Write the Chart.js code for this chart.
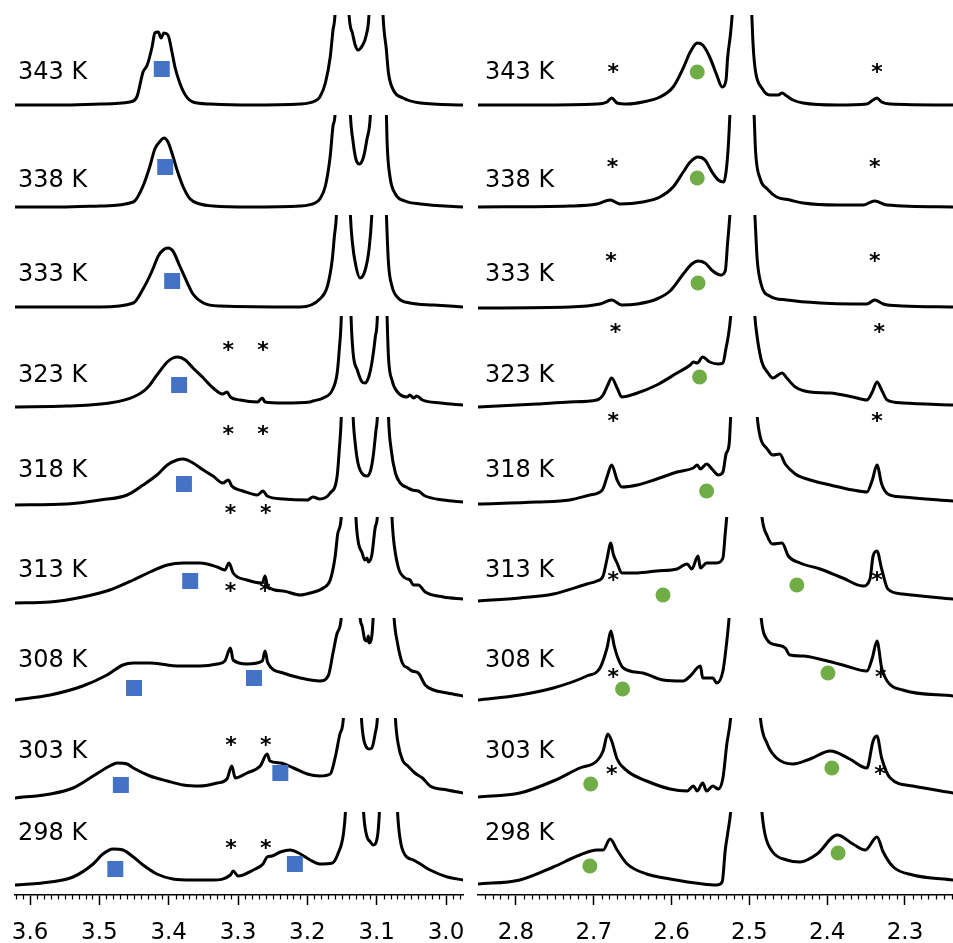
<!DOCTYPE html>
<html>
<head>
<meta charset="utf-8">
<script src="https://cdn.jsdelivr.net/npm/chart.js@4.4.1/dist/chart.umd.min.js"></script>
<style>
  body { margin: 0; background: #fff; }
  #wrap { position: relative; width: 953px; height: 943px; }
  canvas { position: absolute; top: 0; }
</style>
</head>
<body>
<div id="wrap">
  <canvas id="left" width="470" height="943" style="left:0"></canvas>
  <canvas id="right" width="483" height="943" style="left:470px"></canvas>
</div>
<script>
// temperatures, top trace to bottom trace
const temps = [343, 338, 333, 323, 318, 313, 308, 303, 298];

// 3.0 - 3.6 ppm window, [ppm, intensity]
const left343 = [[3.622,0],[3.557,0],[3.499,1],[3.456,3],[3.446,8],[3.437,33],[3.431,40],[3.424,58],[3.420,72],[3.415,73],[3.411,67],[3.407,72],[3.401,70],[3.395,52],[3.391,38],[3.384,22],[3.376,10],[3.365,3],[3.340,1],[3.283,0],[3.210,1],[3.189,4],[3.182,8],[3.174,22],[3.167,48],[3.163,75],[3.160,92],[3.150,320],[3.140,92],[3.135,72],[3.131,60],[3.127,55],[3.121,59],[3.115,70],[3.111,92],[3.101,320],[3.091,92],[3.086,55],[3.083,32],[3.076,15],[3.062,7],[3.037,2],[2.975,0]];
const left338 = [[3.622,0],[3.557,0],[3.499,1],[3.451,5],[3.437,21],[3.427,41],[3.420,58],[3.412,66],[3.407,69],[3.401,65],[3.394,51],[3.387,35],[3.379,20],[3.369,8],[3.355,3],[3.336,1],[3.283,0],[3.210,1],[3.189,4],[3.182,8],[3.174,21],[3.167,51],[3.163,81],[3.160,93],[3.149,320],[3.138,93],[3.134,65],[3.130,48],[3.125,43],[3.119,50],[3.114,68],[3.109,93],[3.098,320],[3.086,93],[3.085,65],[3.081,31],[3.073,13],[3.059,6],[3.037,3],[2.975,0]];
const left333 = [[3.622,0],[3.499,0],[3.451,4],[3.437,18],[3.424,36],[3.415,51],[3.408,57],[3.401,59],[3.394,56],[3.384,41],[3.373,24],[3.365,13],[3.350,4],[3.326,1],[3.210,0],[3.182,8],[3.171,21],[3.164,48],[3.161,71],[3.158,93],[3.148,320],[3.138,93],[3.135,64],[3.130,41],[3.124,29],[3.117,36],[3.111,58],[3.107,93],[3.096,320],[3.086,93],[3.083,44],[3.078,21],[3.069,9],[3.052,4],[3.018,2],[2.975,0]];
const left323 = [[3.622,-2],[3.547,-1],[3.485,2],[3.451,8],[3.431,17],[3.417,30],[3.402,43],[3.394,47],[3.387,48],[3.376,45],[3.365,37],[3.350,27],[3.336,17],[3.322,11],[3.316,13],[3.311,8],[3.297,5],[3.272,3],[3.265,7],[3.261,3],[3.235,2],[3.196,3],[3.192,4],[3.177,7],[3.164,15],[3.157,32],[3.154,55],[3.151,89],[3.144,320],[3.137,89],[3.134,52],[3.128,35],[3.121,23],[3.117,22],[3.112,27],[3.107,42],[3.102,68],[3.099,89],[3.092,320],[3.085,89],[3.083,48],[3.078,25],[3.070,13],[3.056,8],[3.052,10],[3.047,7],[3.042,9],[3.034,5],[3.008,2],[2.975,0]];
const left318 = [[3.622,-2],[3.547,-1],[3.499,3],[3.460,8],[3.437,18],[3.417,28],[3.402,38],[3.388,43],[3.379,44],[3.365,40],[3.350,33],[3.336,27],[3.322,20],[3.314,23],[3.309,17],[3.293,12],[3.272,8],[3.264,12],[3.258,7],[3.235,4],[3.200,3],[3.192,6],[3.182,4],[3.167,10],[3.157,27],[3.154,53],[3.151,87],[3.143,320],[3.134,87],[3.131,60],[3.127,40],[3.119,28],[3.114,27],[3.109,32],[3.105,47],[3.101,73],[3.099,87],[3.091,320],[3.083,87],[3.079,53],[3.073,30],[3.066,20],[3.055,15],[3.049,13],[3.040,12],[3.030,7],[3.004,3],[2.975,1]];
const left313 = [[3.622,-3],[3.571,-2],[3.524,3],[3.485,10],[3.451,20],[3.427,28],[3.402,35],[3.379,37],[3.355,37],[3.330,33],[3.319,30],[3.313,37],[3.307,27],[3.287,20],[3.265,17],[3.261,24],[3.257,13],[3.235,9],[3.210,5],[3.196,7],[3.177,12],[3.167,20],[3.160,43],[3.156,67],[3.151,84],[3.140,320],[3.130,84],[3.127,60],[3.121,47],[3.117,40],[3.114,42],[3.112,38],[3.107,45],[3.102,73],[3.099,84],[3.088,320],[3.078,84],[3.076,63],[3.069,33],[3.059,22],[3.052,20],[3.047,15],[3.040,15],[3.030,8],[3.004,3],[2.975,1]];
const left308 = [[3.622,-2],[3.571,3],[3.524,12],[3.489,23],[3.466,33],[3.451,35],[3.427,35],[3.402,33],[3.379,32],[3.355,32],[3.330,34],[3.319,37],[3.311,50],[3.307,38],[3.287,34],[3.265,37],[3.261,47],[3.257,35],[3.235,25],[3.210,20],[3.182,17],[3.170,22],[3.163,45],[3.157,65],[3.151,81],[3.138,320],[3.124,81],[3.121,72],[3.117,58],[3.114,57],[3.112,62],[3.111,55],[3.107,62],[3.105,81],[3.090,320],[3.075,81],[3.070,55],[3.063,35],[3.055,30],[3.049,27],[3.040,25],[3.030,13],[3.018,8],[2.998,5],[2.975,2]];
const left303 = [[3.622,-2],[3.571,2],[3.538,8],[3.509,20],[3.485,30],[3.474,33],[3.460,32],[3.451,28],[3.427,20],[3.402,15],[3.379,11],[3.355,10],[3.330,13],[3.316,17],[3.309,30],[3.304,18],[3.287,23],[3.268,30],[3.258,42],[3.254,35],[3.239,33],[3.220,28],[3.200,22],[3.182,20],[3.167,22],[3.160,38],[3.153,62],[3.148,78],[3.135,320],[3.122,78],[3.119,58],[3.114,48],[3.111,47],[3.107,48],[3.102,63],[3.099,78],[3.086,320],[3.073,78],[3.069,52],[3.062,35],[3.055,30],[3.045,23],[3.034,18],[3.023,10],[2.998,6],[2.975,3]];
const left298 = [[3.622,-2],[3.571,1],[3.538,6],[3.509,19],[3.495,29],[3.480,34],[3.466,33],[3.451,26],[3.437,18],[3.417,9],[3.394,4],[3.365,3],[3.336,3],[3.311,8],[3.307,12],[3.300,7],[3.278,13],[3.264,19],[3.258,26],[3.251,27],[3.239,31],[3.225,33],[3.210,29],[3.196,23],[3.182,19],[3.164,20],[3.156,29],[3.148,49],[3.145,72],[3.132,320],[3.119,72],[3.115,49],[3.109,41],[3.105,38],[3.099,46],[3.096,72],[3.083,320],[3.070,72],[3.066,43],[3.059,28],[3.047,23],[3.037,19],[3.023,13],[2.998,6],[2.975,3]];

// 2.25 - 2.85 ppm window, [ppm, intensity]
const right343 = [[2.849,0],[2.773,0],[2.696,1],[2.683,3],[2.677,7],[2.670,2],[2.657,1],[2.637,3],[2.615,8],[2.598,18],[2.585,37],[2.576,53],[2.567,62],[2.560,60],[2.551,48],[2.542,30],[2.535,18],[2.530,25],[2.528,47],[2.524,73],[2.522,92],[2.509,320],[2.497,92],[2.495,57],[2.492,33],[2.484,17],[2.474,10],[2.463,10],[2.458,12],[2.452,9],[2.444,5],[2.431,2],[2.387,0],[2.349,1],[2.341,5],[2.336,7],[2.330,3],[2.319,1],[2.238,0]];
const right338 = [[2.849,0],[2.731,1],[2.696,3],[2.679,7],[2.666,3],[2.637,5],[2.615,10],[2.598,20],[2.585,35],[2.576,45],[2.566,50],[2.557,47],[2.548,35],[2.540,27],[2.533,25],[2.530,35],[2.527,62],[2.525,93],[2.509,320],[2.494,93],[2.492,55],[2.486,28],[2.477,18],[2.465,10],[2.448,7],[2.431,4],[2.387,2],[2.354,2],[2.339,6],[2.323,2],[2.238,0]];
const right333 = [[2.849,-1],[2.731,0],[2.692,3],[2.677,7],[2.664,2],[2.644,3],[2.619,8],[2.602,16],[2.585,33],[2.574,43],[2.566,46],[2.557,44],[2.547,36],[2.537,32],[2.531,36],[2.528,64],[2.525,93],[2.509,320],[2.493,93],[2.490,48],[2.485,23],[2.474,11],[2.452,7],[2.409,4],[2.367,3],[2.349,3],[2.339,7],[2.328,3],[2.303,1],[2.238,0]];
const right323 = [[2.849,-2],[2.773,1],[2.731,3],[2.696,5],[2.688,10],[2.682,20],[2.677,27],[2.670,17],[2.664,8],[2.644,12],[2.619,20],[2.593,32],[2.576,40],[2.572,43],[2.567,42],[2.560,48],[2.551,43],[2.540,41],[2.534,42],[2.530,57],[2.528,65],[2.524,89],[2.508,320],[2.493,89],[2.490,68],[2.484,43],[2.476,32],[2.470,27],[2.458,32],[2.452,27],[2.441,18],[2.422,13],[2.396,12],[2.367,8],[2.349,5],[2.342,13],[2.336,23],[2.330,15],[2.323,5],[2.303,2],[2.238,0]];
const right318 = [[2.849,-1],[2.773,1],[2.731,3],[2.705,8],[2.689,13],[2.683,26],[2.677,38],[2.670,23],[2.664,16],[2.644,18],[2.619,24],[2.593,31],[2.572,35],[2.567,38],[2.563,34],[2.555,39],[2.547,33],[2.540,28],[2.534,31],[2.530,49],[2.526,59],[2.524,87],[2.507,320],[2.490,87],[2.486,66],[2.477,54],[2.470,48],[2.461,49],[2.454,39],[2.441,29],[2.422,23],[2.396,18],[2.367,13],[2.349,11],[2.342,23],[2.336,38],[2.330,19],[2.322,9],[2.303,6],[2.238,2]];
const right313 = [[2.849,-1],[2.795,2],[2.752,6],[2.709,16],[2.696,19],[2.688,24],[2.683,41],[2.678,57],[2.675,46],[2.670,37],[2.664,27],[2.644,27],[2.619,29],[2.593,31],[2.580,36],[2.574,31],[2.566,44],[2.563,32],[2.555,37],[2.542,37],[2.534,42],[2.531,67],[2.529,84],[2.506,320],[2.484,84],[2.477,64],[2.470,56],[2.458,57],[2.450,44],[2.435,37],[2.409,31],[2.380,22],[2.354,14],[2.345,21],[2.341,44],[2.336,49],[2.330,31],[2.322,11],[2.303,6],[2.238,1]];
const right308 = [[2.849,-2],[2.795,3],[2.752,10],[2.709,22],[2.692,30],[2.683,50],[2.678,67],[2.674,53],[2.669,40],[2.662,30],[2.637,25],[2.611,18],[2.585,17],[2.576,22],[2.563,32],[2.560,20],[2.547,20],[2.542,15],[2.534,27],[2.529,57],[2.526,81],[2.506,320],[2.485,81],[2.477,58],[2.465,53],[2.454,50],[2.448,43],[2.431,42],[2.405,38],[2.380,33],[2.349,27],[2.342,40],[2.336,57],[2.330,30],[2.323,17],[2.303,8],[2.238,2]];
const right303 = [[2.849,-1],[2.795,3],[2.752,15],[2.718,28],[2.696,35],[2.688,45],[2.682,62],[2.677,55],[2.670,37],[2.657,25],[2.632,15],[2.602,7],[2.580,5],[2.572,10],[2.567,5],[2.560,13],[2.555,5],[2.547,10],[2.540,7],[2.534,18],[2.529,52],[2.524,79],[2.506,320],[2.486,79],[2.477,52],[2.465,38],[2.444,32],[2.422,37],[2.396,45],[2.371,37],[2.349,28],[2.341,55],[2.336,60],[2.330,38],[2.319,18],[2.290,10],[2.238,3]];
const right298 = [[2.849,-1],[2.795,3],[2.752,16],[2.718,28],[2.696,33],[2.688,33],[2.679,44],[2.670,33],[2.657,19],[2.632,9],[2.602,4],[2.560,-1],[2.542,-2],[2.535,1],[2.531,33],[2.528,49],[2.524,72],[2.504,320],[2.484,72],[2.480,49],[2.470,31],[2.452,23],[2.435,21],[2.413,29],[2.387,48],[2.367,39],[2.351,33],[2.336,46],[2.328,31],[2.315,16],[2.290,8],[2.238,3]];

// signal markers: [trace, ppm, intensity]
const leftMarks = [[0,3.410,36],[1,3.405,40],[2,3.395,26],[3,3.385,20],[4,3.378,19],[5,3.369,19],[6,3.450,10],[6,3.277,20],[7,3.469,11],[7,3.239,23],[8,3.477,14],[8,3.218,19]];
const rightMarks = [[0,2.567,33],[1,2.567,29],[2,2.566,24],[3,2.564,28],[4,2.555,12],[5,2.611,5],[5,2.439,15],[6,2.663,9],[6,2.399,25],[7,2.704,12],[7,2.394,28],[8,2.705,17],[8,2.386,30]];

// impurity asterisks: [trace, ppm, height above baseline]
const leftStars = [[3,3.314,59],[3,3.264,59],[4,3.314,73],[4,3.264,73],[4,3.311,-6],[4,3.260,-6],[5,3.311,13],[5,3.261,13],[7,3.310,55],[7,3.260,55],[8,3.310,39],[8,3.260,39]];
const rightStars = [[0,2.675,37],[0,2.336,37],[1,2.676,44],[1,2.339,44],[2,2.678,50],[2,2.339,50],[3,2.672,77],[3,2.333,77],[4,2.675,86],[4,2.336,86],[5,2.675,24],[5,2.336,24],[6,2.675,25],[6,2.331,25],[7,2.677,26],[7,2.332,26]];

const leftTraces = [left343, left338, left333, left323, left318, left313, left308, left303, left298];
const rightTraces = [right343, right338, right333, right323, right318, right313, right308, right303, right298];

// stacking: baseline of each trace and where its tall peaks get cut off
const rowBase = [790, 688, 588, 490, 392, 295, 197, 99, 12];
const rowTop = [880, 780, 680, 579, 478, 378, 277, 177, 83];
const labelLift = [26, 20, 26, 23, 26, 23, 31, 38, 43];

const FONT = '"DejaVu Sans", sans-serif';

const rowClip = {
  id: 'rowClip',
  beforeDatasetDraw(chart, args) {
    const ds = chart.data.datasets[args.index];
    if (!ds.clipRow) return;
    const { ctx, chartArea: a } = chart;
    const top = chart.scales.y.getPixelForValue(rowTop[ds.row]);
    ctx.save();
    ctx.beginPath();
    ctx.rect(a.left - 2, top, a.right - a.left + 4, a.bottom + 4 - top);
    ctx.clip();
  },
  afterDatasetDraw(chart, args) {
    if (chart.data.datasets[args.index].clipRow) chart.ctx.restore();
  }
};

const annotate = {
  id: 'annotate',
  afterDatasetsDraw(chart, args, opts) {
    const { ctx } = chart;
    const { x, y } = chart.scales;
    ctx.save();
    ctx.fillStyle = '#000';
    ctx.textAlign = 'left';
    ctx.textBaseline = 'alphabetic';
    ctx.font = '24px ' + FONT;
    temps.forEach((t, i) => {
      ctx.fillText(t + ' K', opts.labelX, y.getPixelForValue(rowBase[i] + labelLift[i]));
    });
    ctx.font = 'bold 22px ' + FONT;
    ctx.textAlign = 'center';
    const m = ctx.measureText('*');
    const dy = (m.actualBoundingBoxAscent - m.actualBoundingBoxDescent) / 2;
    opts.stars.forEach(([row, ppm, lift]) => {
      ctx.fillText('*', x.getPixelForValue(ppm), y.getPixelForValue(rowBase[row] + lift) + dy);
    });
    ctx.restore();
  },
  afterDraw(chart) {
    // minor ticks every 0.01 ppm
    const { ctx } = chart;
    const x = chart.scales.x;
    ctx.save();
    ctx.strokeStyle = '#000';
    ctx.lineWidth = 1.2;
    ctx.beginPath();
    for (let k = Math.ceil(x.min * 100); k <= Math.floor(x.max * 100); k++) {
      if (k % 10 === 0) continue;
      const px = Math.round(x.getPixelForValue(k / 100)) + 0.5;
      ctx.moveTo(px, x.top);
      ctx.lineTo(px, x.top + 4.5);
    }
    ctx.stroke();
    ctx.restore();
  }
};

function makeChart(id, range, traces, marks, markStyle, stars, padding, labelX) {
  const datasets = traces.map((tr, i) => ({
    data: tr.map(([ppm, v]) => ({ x: ppm, y: rowBase[i] + v })),
    row: i,
    clipRow: true,
    borderColor: '#000',
    borderWidth: 3,
    borderJoinStyle: 'round',
    borderCapStyle: 'round',
    pointRadius: 0,
    fill: false,
    cubicInterpolationMode: 'monotone',
    order: 1
  }));
  datasets.push({
    data: marks.map(([row, ppm, v]) => ({ x: ppm, y: rowBase[row] + v })),
    showLine: false,
    pointStyle: markStyle.style,
    pointRadius: markStyle.radius,
    pointBackgroundColor: markStyle.color,
    pointBorderWidth: 0,
    pointBorderColor: markStyle.color,
    order: 0
  });

  return new Chart(document.getElementById(id), {
    type: 'line',
    data: { datasets },
    options: {
      responsive: false,
      animation: false,
      devicePixelRatio: 1,
      events: [],
      layout: { padding: padding, autoPadding: false },
      plugins: {
        legend: { display: false },
        tooltip: { enabled: false },
        annotate: { stars: stars, labelX: labelX }
      },
      scales: {
        x: {
          type: 'linear',
          reverse: true,
          min: range[0],
          max: range[1],
          afterFit(s) { s.height = 48; s.paddingLeft = 0; s.paddingRight = 0; },
          ticks: {
            stepSize: 0.1,
            includeBounds: false,
            autoSkip: false,
            maxRotation: 0,
            padding: 14,
            color: '#000',
            font: { family: FONT, size: 23 },
            callback: v => v.toFixed(1)
          },
          grid: { drawOnChartArea: false, tickLength: 10, tickWidth: 1.5, tickColor: '#000' },
          border: { color: '#000', width: 1.5 }
        },
        y: { display: false, min: 0, max: 895 }
      }
    },
    plugins: [rowClip, annotate]
  });
}

makeChart('left', [2.9755, 3.6217], leftTraces, leftMarks,
  { style: 'rect', radius: 11.3, color: '#4472C4' }, leftStars,
  { left: 15, right: 7, top: 0, bottom: 0 }, 18);

makeChart('right', [2.2383, 2.8488], rightTraces, rightMarks,
  { style: 'circle', radius: 7.5, color: '#70AD47' }, rightStars,
  { left: 8, right: 0, top: 0, bottom: 0 }, 15);
</script>
</body>
</html>
